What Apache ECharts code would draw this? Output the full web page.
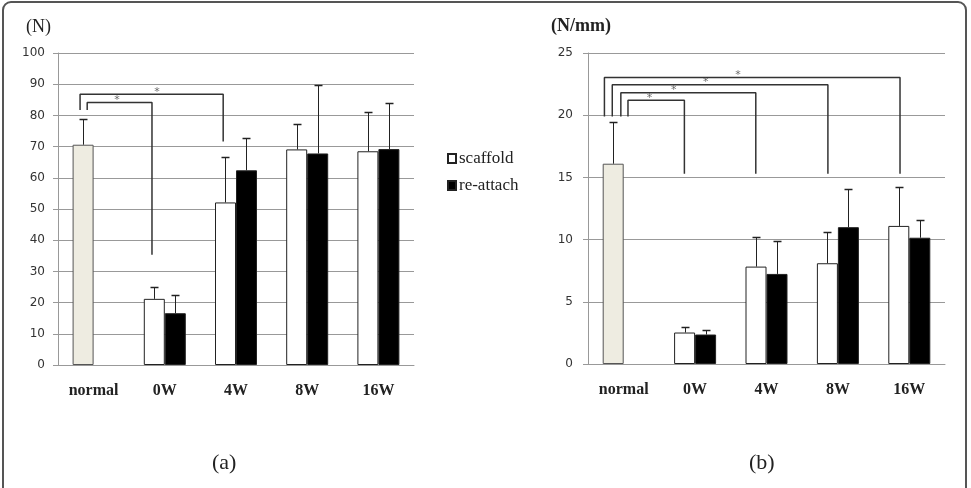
<!DOCTYPE html>
<html>
<head>
<meta charset="utf-8">
<script src="https://cdn.jsdelivr.net/npm/echarts@6/dist/echarts.min.js"></script>
<style>
  html, body { margin: 0; padding: 0; background: #fff; }
  #main { width: 971px; height: 488px; }
</style>
</head>
<body>
<div id="main"></div>
<script>
// categories and tick settings
const categories = ['normal', '0W', '4W', '8W', '16W'];
const forceTicks = { min: 0, max: 100, interval: 10 };
const stiffTicks = { min: 0, max: 25, interval: 5 };

// (a) breaking force, N  (mean and SD)
const forceScaffold = [70.6, 21.2, 52.1, 69.1, 68.5];
const forceScaffoldSd = [8.2, 3.9, 14.7, 8.1, 12.5];
const forceReattach = [null, 16.6, 62.4, 67.8, 69.2];
const forceReattachSd = [null, 5.8, 10.3, 21.8, 14.9];

// (b) stiffness, N/mm
const stiffScaffold = [16.1, 2.53, 7.83, 8.1, 11.1];
const stiffScaffoldSd = [3.35, 0.46, 2.4, 2.48, 3.1];
const stiffReattach = [null, 2.37, 7.24, 11.0, 10.15];
const stiffReattachSd = [null, 0.33, 2.65, 3.08, 1.45];

// significance brackets: [x1, x2, y, leftEnd, rightEnd, starX] (x in category units 0..5)
const forceBrackets = [
  [0.41, 1.32, 84.1, 81.7, 35.3, 0.83],
  [0.31, 2.32, 86.8, 81.7, 71.6, 1.39]
];
const stiffBrackets = [
  [0.56, 1.35, 21.2, 19.9, 15.3, 0.86],
  [0.46, 2.35, 21.8, 19.9, 15.3, 1.20],
  [0.34, 3.36, 22.45, 19.9, 15.3, 1.65],
  [0.23, 4.37, 23.04, 19.9, 15.3, 2.10]
];

const NORMAL_COLOR = '#eeece1';
const BAR_W = 21;

function barSeries(name, values, idx) {
  return {
    name: name,
    type: 'bar',
    xAxisIndex: idx, yAxisIndex: idx,
    barWidth: BAR_W,
    barGap: '0%',
    data: values.map((v, i) => {
      if (v == null) return '-';
      if (i === 0) return { value: v, itemStyle: { color: NORMAL_COLOR, borderColor: '#555' } };
      return v;
    }),
    itemStyle: {
      color: name === 'scaffold' ? '#fff' : '#000',
      borderColor: '#222',
      borderWidth: 1
    },
    emphasis: { disabled: true }
  };
}

function errSeries(values, sds, idx, offset) {
  const data = [];
  values.forEach((v, i) => {
    if (v != null) data.push([i, v + sds[i], v]);
  });
  return {
    type: 'custom',
    xAxisIndex: idx, yAxisIndex: idx,
    silent: true,
    z: 5,
    encode: { x: 0, y: 1 },
    data: data,
    renderItem: function (params, api) {
      const base = api.coord([api.value(0), api.value(2)]);
      const top = api.coord([api.value(0), api.value(1)]);
      const x = Math.round(base[0] + offset) + 0.5;
      const y = Math.round(top[1]) + 0.5;
      return {
        type: 'group',
        children: [
          { type: 'line', shape: { x1: x, y1: base[1], x2: x, y2: y }, style: { stroke: '#222', lineWidth: 1 } },
          { type: 'line', shape: { x1: x - 4, y1: y, x2: x + 4, y2: y }, style: { stroke: '#222', lineWidth: 1.5 } }
        ]
      };
    }
  };
}

function bracketSeries(brackets, xIdx, yIdx) {
  const out = [];
  brackets.forEach(b => {
    out.push({
      type: 'line',
      xAxisIndex: xIdx, yAxisIndex: yIdx,
      silent: true,
      symbol: 'none',
      z: 6,
      lineStyle: { color: '#333', width: 1.5 },
      data: [[b[0], b[3]], [b[0], b[2]], [b[1], b[2]], [b[1], b[4]]]
    });
    out.push({
      type: 'scatter',
      xAxisIndex: xIdx, yAxisIndex: yIdx,
      silent: true,
      symbolSize: 0,
      z: 6,
      data: [[b[5], b[2]]],
      label: {
        show: true, position: 'top', distance: -3, formatter: '*',
        fontSize: 11, color: '#444', fontFamily: 'DejaVu Sans'
      }
    });
  });
  return out;
}

function catAxis(grid) {
  return {
    type: 'category',
    gridIndex: grid,
    data: categories,
    axisLine: { lineStyle: { color: '#999' } },
    axisTick: { length: 5, lineStyle: { color: '#999' } },
    axisLabel: {
      margin: 18,
      fontFamily: 'Liberation Serif',
      fontWeight: 'bold',
      fontSize: 16,
      color: '#222'
    }
  };
}

function hiddenAxis(grid) {
  return { type: 'value', gridIndex: grid, min: 0, max: 5, show: false };
}

function valAxis(grid, t, margin) {
  return {
    type: 'value',
    gridIndex: grid,
    min: t.min, max: t.max, interval: t.interval,
    axisLine: { show: true, lineStyle: { color: '#999' } },
    axisTick: { show: true, length: 5, lineStyle: { color: '#999' } },
    splitLine: { lineStyle: { color: '#999' } },
    axisLabel: { fontFamily: 'DejaVu Sans', fontSize: 12, color: '#333', margin: margin }
  };
}

const option = {
  animation: false,
  backgroundColor: '#fff',
  grid: [
    { left: 58, right: 557, top: 53, bottom: 123 },
    { left: 588, right: 26, top: 53, bottom: 124 }
  ],
  xAxis: [catAxis(0), catAxis(1), hiddenAxis(0), hiddenAxis(1)],
  yAxis: [valAxis(0, forceTicks, 13), valAxis(1, stiffTicks, 15)],
  legend: {
    data: ['scaffold', 're-attach'],
    orient: 'vertical',
    left: 442, top: 145,
    itemWidth: 8, itemHeight: 9,
    itemGap: 10,
    icon: 'rect',
    selectedMode: false,
    textStyle: { fontFamily: 'Liberation Serif', fontSize: 17, color: '#222', padding: [0, 0, 0, -2] }
  },
  graphic: [
    { type: 'rect', shape: { x: 3, y: 2, width: 963, height: 500, r: 8 }, style: { fill: 'none', stroke: '#555', lineWidth: 2 }, silent: true },
    { type: 'text', left: 26, top: 18, style: { text: '(N)', font: '18px "Liberation Serif"', fill: '#222' } },
    { type: 'text', left: 551, top: 17, style: { text: '(N/mm)', font: 'bold 18px "Liberation Serif"', fill: '#222' } },
    { type: 'text', left: 212, top: 452, style: { text: '(a)', font: '22px "Liberation Serif"', fill: '#222' } },
    { type: 'text', left: 749, top: 452, style: { text: '(b)', font: '22px "Liberation Serif"', fill: '#222' } }
  ],
  series: [
    barSeries('scaffold', forceScaffold, 0),
    barSeries('re-attach', forceReattach, 0),
    errSeries(forceScaffold, forceScaffoldSd, 0, -BAR_W / 2),
    errSeries(forceReattach, forceReattachSd, 0, BAR_W / 2),
    barSeries('scaffold', stiffScaffold, 1),
    barSeries('re-attach', stiffReattach, 1),
    errSeries(stiffScaffold, stiffScaffoldSd, 1, -BAR_W / 2),
    errSeries(stiffReattach, stiffReattachSd, 1, BAR_W / 2)
  ].concat(bracketSeries(forceBrackets, 2, 0), bracketSeries(stiffBrackets, 3, 1))
};

const chart = echarts.init(document.getElementById('main'));
chart.setOption(option);
</script>
</body>
</html>
